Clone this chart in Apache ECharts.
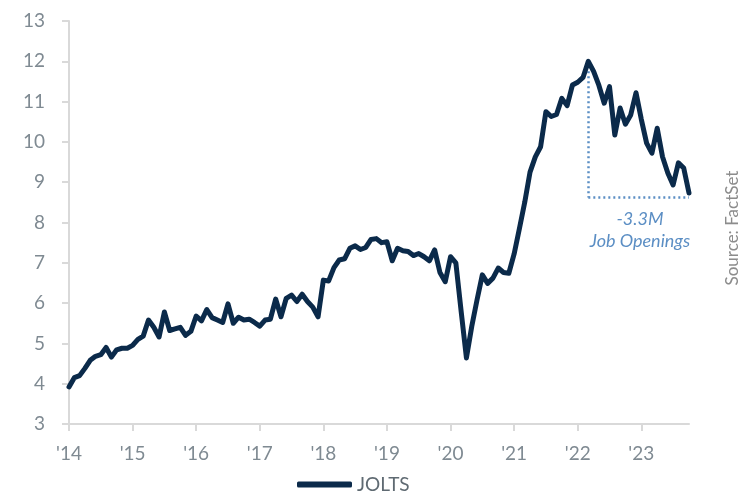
<!DOCTYPE html>
<html>
<head>
<meta charset="utf-8">
<script src="https://cdn.jsdelivr.net/npm/echarts@6/dist/echarts.min.js"></script>
<style>
  html, body { margin: 0; padding: 0; background: #fff; }
  #chart { width: 739px; height: 495px; }
</style>
</head>
<body>
<div id="chart"></div>
<script>
// JOLTS job openings, millions, monthly Jan 2014 - Oct 2023
const years = ['2014', '2015', '2016', '2017', '2018', '2019', '2020', '2021', '2022', '2023'];
const jolts2014 = [3.92, 4.15, 4.2, 4.38, 4.58, 4.68, 4.72, 4.9, 4.66, 4.84, 4.88, 4.88];
const jolts2015 = [4.95, 5.1, 5.18, 5.58, 5.4, 5.16, 5.78, 5.32, 5.36, 5.4, 5.2, 5.3];
const jolts2016 = [5.68, 5.56, 5.84, 5.64, 5.58, 5.52, 5.98, 5.5, 5.65, 5.58, 5.6, 5.52];
const jolts2017 = [5.43, 5.58, 5.6, 6.1, 5.66, 6.12, 6.2, 6.04, 6.22, 6.04, 5.9, 5.66];
const jolts2018 = [6.57, 6.55, 6.88, 7.07, 7.1, 7.36, 7.42, 7.33, 7.38, 7.58, 7.6, 7.5];
const jolts2019 = [7.52, 7.05, 7.36, 7.3, 7.28, 7.18, 7.23, 7.15, 7.05, 7.32, 6.76, 6.53];
const jolts2020 = [7.15, 7.0, 5.8, 4.64, 5.42, 6.08, 6.7, 6.49, 6.62, 6.87, 6.76, 6.74];
const jolts2021 = [7.22, 7.85, 8.5, 9.25, 9.63, 9.88, 10.75, 10.63, 10.68, 11.08, 10.9, 11.41];
const jolts2022 = [11.48, 11.6, 12.0, 11.75, 11.4, 10.96, 11.37, 10.17, 10.84, 10.44, 10.67, 11.22];
const jolts2023 = [10.56, 9.97, 9.72, 10.34, 9.63, 9.23, 8.93, 9.48, 9.35, 8.73];

// annotation: drop from peak to latest
const peakMonth = '2022-03';
const lastMonth = '2023-10';
const peakValue = 12.0;
const floorValue = 8.62;
const noteLines = ['-3.3M', 'Job Openings'];

const jolts = [].concat(jolts2014, jolts2015, jolts2016, jolts2017, jolts2018,
  jolts2019, jolts2020, jolts2021, jolts2022, jolts2023);
const months = jolts.map((v, i) => {
  const y = years[Math.floor(i / 12)];
  const m = String(i % 12 + 1).padStart(2, '0');
  return y + '-' + m;
});

const font = 'Lato';
const grey = '#7f8a92';
const axisGrey = '#d9d9d9';
const navy = '#0b2a4a';
const noteBlue = '#5b8ec4';

const chart = echarts.init(document.getElementById('chart'));

chart.setOption({
  animation: false,
  grid: { left: 69, right: 50, top: 21, bottom: 71 },
  legend: {
    left: 292,
    top: 470,
    itemWidth: 55,
    itemHeight: 6,
    itemGap: 6,
    icon: 'roundRect',
    textStyle: { fontFamily: font, fontSize: 19, color: '#5f6a72' },
    data: ['JOLTS'],
  },
  xAxis: {
    type: 'category',
    data: months,
    boundaryGap: false,
    axisLine: { lineStyle: { color: axisGrey, width: 2 } },
    axisTick: {
      length: 7,
      lineStyle: { color: axisGrey, width: 2 },
      interval: (i) => i % 12 === 0,
    },
    axisLabel: {
      interval: (i) => i % 12 === 0,
      formatter: (v) => "'" + v.slice(2, 4),
      fontFamily: font,
      fontSize: 19,
      color: grey,
      margin: 20,
    },
    splitLine: { show: false },
  },
  yAxis: {
    type: 'value',
    min: 3,
    max: 13,
    interval: 1,
    axisLine: { show: true, lineStyle: { color: axisGrey, width: 2 } },
    axisTick: { show: true, length: 7, lineStyle: { color: axisGrey, width: 2 } },
    axisLabel: { fontFamily: font, fontSize: 19, color: grey, margin: 24 },
    splitLine: { show: false },
  },
  series: [
    {
      name: 'JOLTS',
      type: 'line',
      data: jolts,
      symbol: 'none',
      z: 3,
      lineStyle: { color: navy, width: 5, cap: 'round', join: 'round' },
      itemStyle: { color: navy },
      markLine: {
        silent: true,
        symbol: 'none',
        z: 2,
        label: { show: false },
        lineStyle: { color: noteBlue, type: [2, 3], width: 2.5 },
        data: [
          [{ coord: [peakMonth, peakValue] }, { coord: [peakMonth, floorValue] }],
          [{ coord: [peakMonth, floorValue] }, { coord: [lastMonth, floorValue] }],
        ],
      },
    },
  ],
  graphic: [
    {
      type: 'text',
      x: 640,
      y: 208,
      style: {
        text: noteLines.join('\n'),
        fontFamily: font,
        fontStyle: 'italic',
        fontSize: 18,
        lineHeight: 22,
        fill: noteBlue,
        align: 'center',
        verticalAlign: 'top',
      },
    },
    {
      type: 'text',
      x: 733,
      y: 228,
      rotation: Math.PI / 2,
      style: {
        text: 'Source: FactSet',
        fontFamily: font,
        fontSize: 17,
        fill: '#8c8c8c',
        align: 'center',
        verticalAlign: 'middle',
      },
    },
  ],
});
</script>
</body>
</html>
